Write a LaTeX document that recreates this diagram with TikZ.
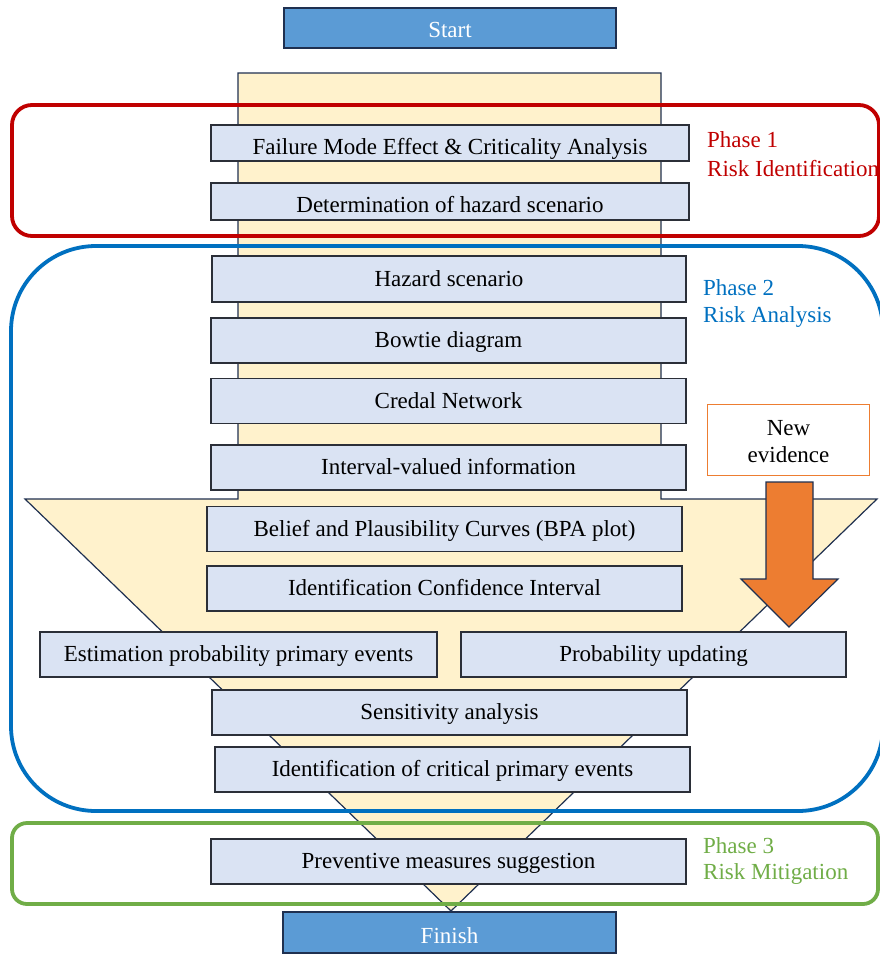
\documentclass[tikz,border=0pt]{standalone}
\usepackage{fontspec}
\setmainfont{Liberation Serif}
\definecolor{startblue}{HTML}{5B9BD5}
\definecolor{navy}{HTML}{1F3050}
\definecolor{boxfill}{HTML}{DAE3F3}
\definecolor{boxline}{HTML}{2B2F38}
\definecolor{funnelfill}{HTML}{FFF2CC}
\definecolor{phred}{HTML}{C00000}
\definecolor{phblue}{HTML}{0070C0}
\definecolor{phgreen}{HTML}{70AD47}
\definecolor{orng}{HTML}{ED7D31}
\tikzset{
  txt/.style={font=\fontsize{23}{28}\selectfont},
  stepbox/.style={draw=boxline, line width=1.2pt, fill=boxfill, inner sep=0pt, txt,
    text height=19pt, text depth=4.6pt},
  termbox/.style={draw=navy, line width=1.5pt, fill=startblue, inner sep=0pt, text=white, txt},
  frame/.style={line width=3.8pt},
  phlabel/.style={anchor=base west, inner sep=0pt, txt},
}
\begin{document}
\begin{tikzpicture}[x=1pt,y=-1pt]
\useasboundingbox (0,0) rectangle (879,956);
% funnel
\draw[fill=funnelfill, draw=navy, line width=1.2pt, line join=miter]
  (238,73) -- (661,73) -- (661,499) -- (877,499) -- (451,911) -- (25,499) -- (238,499) -- cycle;
% phase frames
\draw[frame, draw=phred, rounded corners=20pt] (12,105) rectangle (879,236);
\draw[frame, draw=phblue, rounded corners=85pt] (11,246) rectangle (883,811);
\draw[frame, draw=phgreen, rounded corners=15pt] (12,823) rectangle (878,904);
% start / finish
\node[termbox, minimum width=332pt, minimum height=40pt, text height=21.3pt, text depth=2.7pt] (start) at (450,28) {Start};
\node[termbox, minimum width=333pt, minimum height=41pt, text height=22.5pt, text depth=1.5pt] (finish) at (449.5,932.5) {Finish};
% steps
\node[stepbox, minimum width=478pt, minimum height=36pt, text height=23pt, text depth=1pt] (fmeca) at (450,143) {Failure Mode Effect \& Criticality Analysis};
\node[stepbox, minimum width=478pt, minimum height=37pt, text height=22.5pt, text depth=1.5pt] (det) at (450,201.5) {Determination of hazard scenario};
\node[stepbox, minimum width=474pt, minimum height=46pt] (haz) at (449,279) {Hazard scenario};
\node[stepbox, minimum width=475pt, minimum height=45pt] (bow) at (448.5,340.5) {Bowtie diagram};
\node[stepbox, minimum width=475pt, minimum height=45pt] (cred) at (448.5,401) {Credal Network};
\node[stepbox, minimum width=475pt, minimum height=45pt] (intv) at (448.5,467.5) {Interval-valued information};
\node[stepbox, minimum width=475pt, minimum height=45pt] (bel) at (444.5,529) {Belief and Plausibility Curves (BPA plot)};
\node[stepbox, minimum width=475pt, minimum height=45pt] (idci) at (444.5,588.5) {Identification Confidence Interval};
\node[stepbox, minimum width=397pt, minimum height=45pt] (est) at (238.5,654.5) {Estimation probability primary events};
\node[stepbox, minimum width=385pt, minimum height=45pt] (upd) at (653.5,654.5) {Probability updating};
\node[stepbox, minimum width=475pt, minimum height=45pt] (sens) at (449.5,712.5) {Sensitivity analysis};
\node[stepbox, minimum width=475pt, minimum height=45pt] (crit) at (452.5,769.5) {Identification of critical primary events};
\node[stepbox, minimum width=475pt, minimum height=45pt] (prev) at (448.5,861.5) {Preventive measures suggestion};
% new evidence
\node[draw=orng, line width=1.8pt, fill=white, minimum width=162pt, minimum height=71pt, inner sep=0pt] (newev) at (788.5,440) {};
\node[anchor=base, inner sep=0pt, txt] (newev1) at (788.5,435) {New};
\node[anchor=base, inner sep=0pt, txt] (newev2) at (788.5,462.7) {evidence};
\draw[fill=orng, draw=navy, line width=1.2pt, line join=miter]
  (766,482) -- (813,482) -- (813,579) -- (838,579) -- (789,627) -- (741,579) -- (766,579) -- cycle;
% phase labels
\node[phlabel, text=phred] (ph1a) at (707,147.7) {Phase 1};
\node[phlabel, text=phred] (ph1b) at (707,176) {Risk Identification};
\node[phlabel, text=phblue] (ph2a) at (703,295) {Phase 2};
\node[phlabel, text=phblue] (ph2b) at (703,322.7) {Risk Analysis};
\node[phlabel, text=phgreen] (ph3a) at (703,853.3) {Phase 3};
\node[phlabel, text=phgreen] (ph3b) at (703,879.5) {Risk Mitigation};
\end{tikzpicture}
\end{document}
